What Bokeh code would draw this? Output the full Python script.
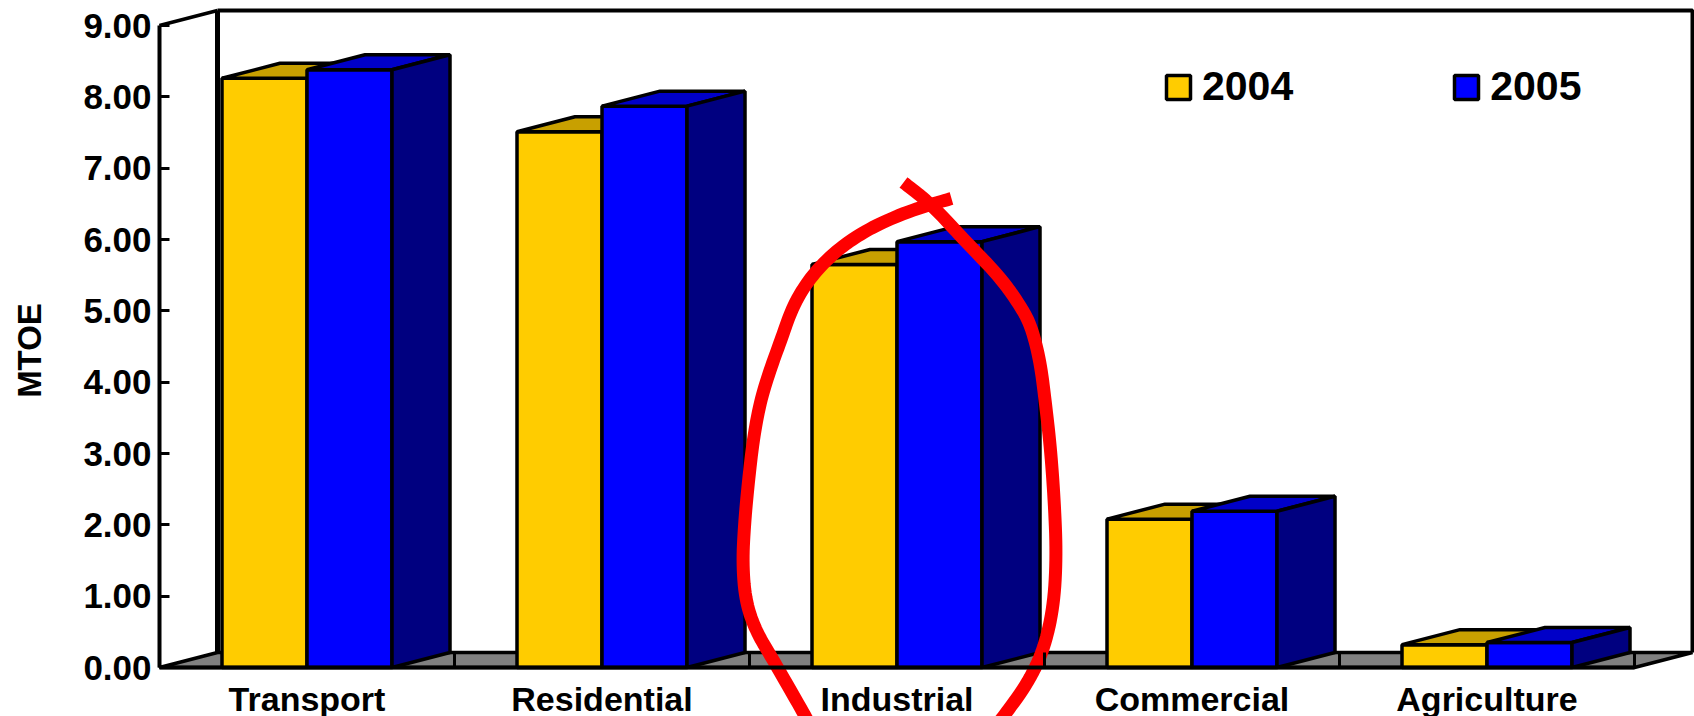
from math import pi
from bokeh.plotting import figure
from bokeh.models import Range1d, LinearAxis, FixedTicker, Legend, LegendItem, Label, NumeralTickFormatter
from bokeh.embed import file_html
from bokeh.resources import INLINE

categories = ["Transport", "Residential", "Industrial", "Commercial", "Agriculture"]
values_2004 = [8.26, 7.51, 5.65, 2.08, 0.32]
values_2005 = [8.38, 7.87, 5.97, 2.19, 0.35]
y_ticks = [0, 1, 2, 3, 4, 5, 6, 7, 8, 9]

W, H = 1694, 716
PX_X, PX_Y = 295.0, 71.33      # pixels per category / per MTOE
ORIGIN_X, ORIGIN_Y = 159, 667  # pixel of the axes' corner
BAR = 85 / PX_X
DX, DY = 58 / PX_X, 15 / PX_Y
XA, XB, YA, YB = -0.5, 4.5, 0, 9
OUT = 3.5
YELLOW, YELLOW_TOP = "#FFCC00", "#C8A000"
BLUE, BLUE_TOP, BLUE_SIDE = "#0000FF", "#0000C8", "#000080"

def fx(px): return XA + (px - ORIGIN_X) / PX_X
def fy(py): return (ORIGIN_Y - py) / PX_Y

p = figure(width=W, height=H, output_backend="svg", toolbar_location=None,
           x_range=Range1d(fx(0), fx(W)), y_range=Range1d(fy(H), fy(0)),
           min_border=0, x_axis_type=None, y_axis_type=None)
p.outline_line_color = None
p.grid.visible = False
p.background_fill_color = "white"

# floor and walls
p.patch([XA, XB, XB + DX, XA + DX], [YA, YA, YA + DY, YA + DY], fill_color="#808080", line_color="black", line_width=OUT)
p.line([XA + DX, XA + DX], [YA + DY, YB + DY], line_color="black", line_width=5)
p.line([XA + DX, XB + DX, XB + DX], [YB + DY, YB + DY, YA + DY], line_color="black", line_width=4)
p.line([XA, XA + DX], [YB, YB + DY], line_color="black", line_width=OUT)

legend_items = []
for i, (a, b) in enumerate(zip(values_2004, values_2005)):
    # 2004
    ya = p.quad(left=[i - BAR], right=[i], bottom=[0], top=[a], fill_color=YELLOW, line_color="black", line_width=OUT)
    p.patch([i - BAR, i, i + DX, i - BAR + DX], [a, a, a + DY, a + DY], fill_color=YELLOW_TOP, line_color="black", line_width=OUT)
    # 2005
    bl = p.quad(left=[i], right=[i + BAR], bottom=[0], top=[b], fill_color=BLUE, line_color="black", line_width=OUT)
    p.patch([i, i + BAR, i + BAR + DX, i + DX], [b, b, b + DY, b + DY], fill_color=BLUE_TOP, line_color="black", line_width=OUT)
    p.patch([i + BAR, i + BAR + DX, i + BAR + DX, i + BAR], [0, DY, b + DY, b], fill_color=BLUE_SIDE, line_color="black", line_width=OUT)
    if i == 0:
        legend_items = [LegendItem(label="2004", renderers=[ya]), LegendItem(label="2005", renderers=[bl])]

# axes
yax = LinearAxis(ticker=FixedTicker(ticks=y_ticks), fixed_location=XA, bounds=(YA, YB))
yax.formatter = NumeralTickFormatter(format="0.00")
yax.axis_line_width = 4
yax.major_tick_in, yax.major_tick_out = 10, 0
yax.major_tick_line_width = 3
yax.minor_tick_line_color = None
yax.major_label_text_font = "Liberation Sans"
yax.major_label_text_font_size = "35px"
yax.major_label_text_font_style = "bold"
yax.major_label_text_color = "black"
yax.major_label_standoff = 8
p.add_layout(yax, "left")

xax = LinearAxis(ticker=FixedTicker(ticks=list(range(len(categories))), minor_ticks=[k - 0.5 for k in range(len(categories) + 1)]),
                 fixed_location=YA, bounds=(XA, XB))
xax.major_label_overrides = {i: c for i, c in enumerate(categories)}
xax.axis_line_width = 4
xax.major_tick_line_color = None
xax.minor_tick_in, xax.minor_tick_out = 15, 0
xax.minor_tick_line_width = 3
xax.minor_tick_line_color = "black"
xax.major_label_text_font = "Liberation Sans"
xax.major_label_text_font_size = "34px"
xax.major_label_text_font_style = "bold"
xax.major_label_text_color = "black"
xax.major_label_standoff = 6
p.add_layout(xax, "below")

p.add_layout(Label(x=29, y=H - 350, x_units="screen", y_units="screen", text="MTOE", angle=pi / 2,
                   text_font="Liberation Sans", text_font_size="33px", text_font_style="bold",
                   text_align="center", text_baseline="middle", text_color="black"))

legend = Legend(items=legend_items, orientation="horizontal", location=(1163, H - 110), padding=0, margin=0,
                spacing=158, glyph_width=30, glyph_height=30, label_standoff=9,
                label_text_font="Liberation Sans", label_text_font_size="41px", label_text_font_style="bold",
                label_text_color="black", border_line_color=None, background_fill_alpha=0)
p.add_layout(legend, "center")

# hand-drawn red annotation (pixel positions)
stroke_a = [(951, 198), (930, 204), (905, 212), (873, 226), (850, 240), (833, 253), (815, 271), (800, 292), (790, 312), (781, 338),
            (770, 368), (760, 400), (753, 437), (748, 480), (744, 523), (742, 563), (745, 600), (755, 630), (773, 660),
            (805, 716), (808, 722)]
stroke_b = [(903, 182), (930, 203), (967, 243), (1000, 277), (1023, 310), (1032, 330), (1040, 363), (1045, 403), (1050, 447),
            (1054, 503), (1056, 557), (1053, 607), (1043, 650), (1027, 683), (1003, 716), (998, 722)]

def smooth(points, rounds=3):
    """Round the corners of the hand-drawn stroke; only affects the annotation."""
    for _ in range(rounds):
        out = [points[0]]
        for (x0, y0), (x1, y1) in zip(points, points[1:]):
            out += [(0.75 * x0 + 0.25 * x1, 0.75 * y0 + 0.25 * y1), (0.25 * x0 + 0.75 * x1, 0.25 * y0 + 0.75 * y1)]
        out.append(points[-1])
        points = out
    return points

for stroke in (stroke_a, stroke_b):
    pts = smooth(stroke)
    p.line([fx(x) for x, _ in pts], [fy(y) for _, y in pts], line_color="#FF0000", line_width=13, line_join="round")

open("out.html", "w").write(file_html(p, INLINE))
